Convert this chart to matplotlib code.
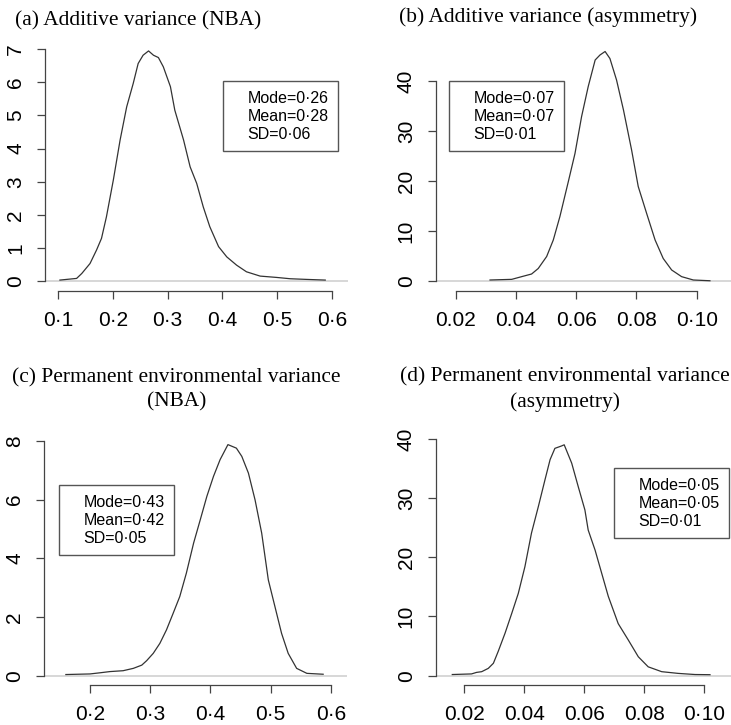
"""Posterior densities of variance components, four panels in R base-graphics style."""

import matplotlib
matplotlib.use("Agg")
import matplotlib.pyplot as plt
from matplotlib.lines import Line2D

W, H = 731, 725

# (a) additive variance, NBA
a_x = [0.103, 0.1335, 0.143, 0.158, 0.170, 0.179, 0.188, 0.2006, 0.213, 0.225, 0.237,
       0.246, 0.255, 0.265, 0.274, 0.283, 0.292, 0.305, 0.313, 0.329, 0.341, 0.353,
       0.365, 0.377, 0.393, 0.408, 0.426, 0.444, 0.469, 0.499, 0.524, 0.554, 0.588]
a_y = [0.03, 0.08, 0.23, 0.53, 0.94, 1.29, 1.94, 3.05, 4.26, 5.26, 5.97,
       6.57, 6.82, 6.95, 6.82, 6.75, 6.47, 5.87, 5.16, 4.26, 3.45, 2.95,
       2.24, 1.64, 1.04, 0.73, 0.48, 0.28, 0.15, 0.11, 0.07, 0.05, 0.03]

# (b) additive variance, asymmetry
b_x = [0.0314, 0.0386, 0.0419, 0.0452, 0.0474, 0.0502, 0.0524, 0.0546, 0.0574, 0.0596,
       0.0618, 0.0640, 0.0663, 0.0679, 0.0696, 0.0712, 0.0734, 0.0757, 0.0784, 0.0806,
       0.0834, 0.0862, 0.0889, 0.0917, 0.0950, 0.0989, 0.1044]
b_y = [0.2, 0.33, 0.87, 1.4, 2.5, 4.9, 8.2, 12.9, 19.9, 25.5,
       32.9, 38.9, 44.2, 45.2, 45.9, 44.5, 40.2, 34.2, 26.2, 18.9,
       13.5, 8.2, 4.5, 2.2, 0.87, 0.2, 0.05]

# (c) permanent environmental variance, NBA
c_x = [0.160, 0.200, 0.217, 0.233, 0.255, 0.272, 0.286, 0.294, 0.305, 0.316, 0.327,
       0.338, 0.349, 0.360, 0.372, 0.383, 0.394, 0.405, 0.416, 0.429, 0.443, 0.452,
       0.463, 0.474, 0.485, 0.496, 0.507, 0.518, 0.529, 0.543, 0.560, 0.587]
c_y = [0.05, 0.07, 0.11, 0.15, 0.18, 0.26, 0.37, 0.52, 0.77, 1.11, 1.57,
       2.13, 2.70, 3.50, 4.52, 5.31, 6.11, 6.79, 7.36, 7.87, 7.75, 7.47,
       6.90, 5.99, 4.86, 3.27, 2.36, 1.45, 0.77, 0.26, 0.09, 0.06]

# (d) permanent environmental variance, asymmetry
d_x = [0.0160, 0.0224, 0.0241, 0.0258, 0.0280, 0.0297, 0.0313, 0.0336, 0.0358, 0.0380,
       0.0402, 0.0424, 0.0447, 0.0469, 0.0486, 0.0502, 0.0524, 0.0533, 0.0558, 0.0580,
       0.0602, 0.0613, 0.0636, 0.0658, 0.0680, 0.0713, 0.0747, 0.0780, 0.0813, 0.0858,
       0.0913, 0.0969, 0.1019]
d_y = [0.2, 0.3, 0.56, 0.68, 1.24, 2.1, 4.1, 7.2, 10.5, 13.9,
       18.4, 24.1, 28.6, 33.1, 36.5, 38.4, 38.8, 39.0, 35.9, 31.9,
       28.0, 24.6, 21.2, 17.3, 13.4, 8.8, 6.0, 3.2, 1.5, 0.68,
       0.39, 0.2, 0.17]

titles = ["(a) Additive variance (NBA)",
          "(b) Additive variance (asymmetry)",
          "(c) Permanent environmental variance\n(NBA)",
          "(d) Permanent environmental variance\n(asymmetry)"]
stats = [["Mode=0·26", "Mean=0·28", "SD=0·06"],
         ["Mode=0·07", "Mean=0·07", "SD=0·01"],
         ["Mode=0·43", "Mean=0·42", "SD=0·05"],
         ["Mode=0·05", "Mean=0·05", "SD=0·01"]]
xticks_nba_a = [0.1, 0.2, 0.3, 0.4, 0.5, 0.6]
xlabels_nba_a = ["0·1", "0·2", "0·3", "0·4", "0·5", "0·6"]
xticks_nba_c = [0.2, 0.3, 0.4, 0.5, 0.6]
xlabels_nba_c = ["0·2", "0·3", "0·4", "0·5", "0·6"]
xticks_asym = [0.02, 0.04, 0.06, 0.08, 0.10]
xlabels_asym = ["0.02", "0.04", "0.06", "0.08", "0·10"]
yticks = [list(range(0, 8)), list(range(0, 41, 10)),
          list(range(0, 9, 2)), list(range(0, 41, 10))]

# layout in pixels: axes box (left, top, right, bottom), limits, title spot, legend corner
panels = [
    dict(x=a_x, y=a_y, box=(45, 40, 348, 291), xlim=(0.0757, 0.6296), ylim=(-0.30, 7.28),
         xt=xticks_nba_a, xl=xlabels_nba_a, title=(15, 21), leg=(223, 81)),
    dict(x=b_x, y=b_y, box=(435.7, 42.5, 731, 291), xlim=(0.01336, 0.1114), ylim=(-2.0, 47.7),
         xt=xticks_asym, xl=xlabels_asym, title=(399, 17), leg=(449, 81)),
    dict(x=c_x, y=c_y, box=(44, 435.5, 347, 685), xlim=(0.1237, 0.6266), ylim=(-0.306, 8.18),
         xt=xticks_nba_c, xl=xlabels_nba_c, title=(12, 390), leg=(59, 485)),
    dict(x=d_x, y=d_y, box=(435.7, 435.5, 731, 685), xlim=(0.01047, 0.1089), ylim=(-1.57, 40.57),
         xt=xticks_asym, xl=xlabels_asym, title=(400, 390), leg=(614, 468)),
]

plt.rcParams["font.family"] = ["Liberation Sans", "DejaVu Sans"]
AXC = "#444444"

fig = plt.figure(figsize=(W / 100, H / 100), dpi=100)
for i, p in enumerate(panels):
    l, t, r, b = p["box"]
    ax = fig.add_axes([l / W, 1 - b / H, (r - l) / W, (b - t) / H])
    ax.patch.set_alpha(0)
    ax.axhline(0, color="#d4d4d4", lw=1.3, zorder=1)
    ax.plot(p["x"], p["y"], color="#333333", lw=0.9, zorder=2)
    ax.set_xlim(*p["xlim"])
    ax.set_ylim(*p["ylim"])
    ax.set_xticks(p["xt"])
    ax.set_xticklabels(p["xl"])
    ax.set_yticks(yticks[i])
    ax.set_yticklabels([str(v) for v in yticks[i]], rotation=90, va="center")
    for s in ("top", "right"):
        ax.spines[s].set_visible(False)
    ax.spines["left"].set_bounds(yticks[i][0], yticks[i][-1])
    ax.spines["bottom"].set_bounds(p["xt"][0], p["xt"][-1])
    for s in ("left", "bottom"):
        ax.spines[s].set_color(AXC)
        ax.spines[s].set_linewidth(0.9)
    ax.tick_params(direction="out", length=5.8, width=0.9, color=AXC,
                   labelsize=15, pad=8.5)

    tx, ty = p["title"]
    fig.text(tx / W, 1 - ty / H, titles[i], family=["Liberation Serif", "DejaVu Serif"],
             fontsize=15.4, ha="left", va="center", multialignment="center",
             linespacing=1.38)

    lx, ly = p["leg"]
    handles = [Line2D([], [], color="none") for _ in stats[i]]
    leg = ax.legend(handles, stats[i], loc="upper left",
                    bbox_to_anchor=(lx / W, 1 - ly / H), bbox_transform=fig.transFigure,
                    fontsize=11.5, frameon=True, fancybox=False, framealpha=1,
                    edgecolor="#555555", borderpad=0.6, handlelength=0.5,
                    handletextpad=0.425, labelspacing=0.19, borderaxespad=0)
    leg.get_frame().set_linewidth(1.0)

fig.savefig("out.png", dpi=100)
